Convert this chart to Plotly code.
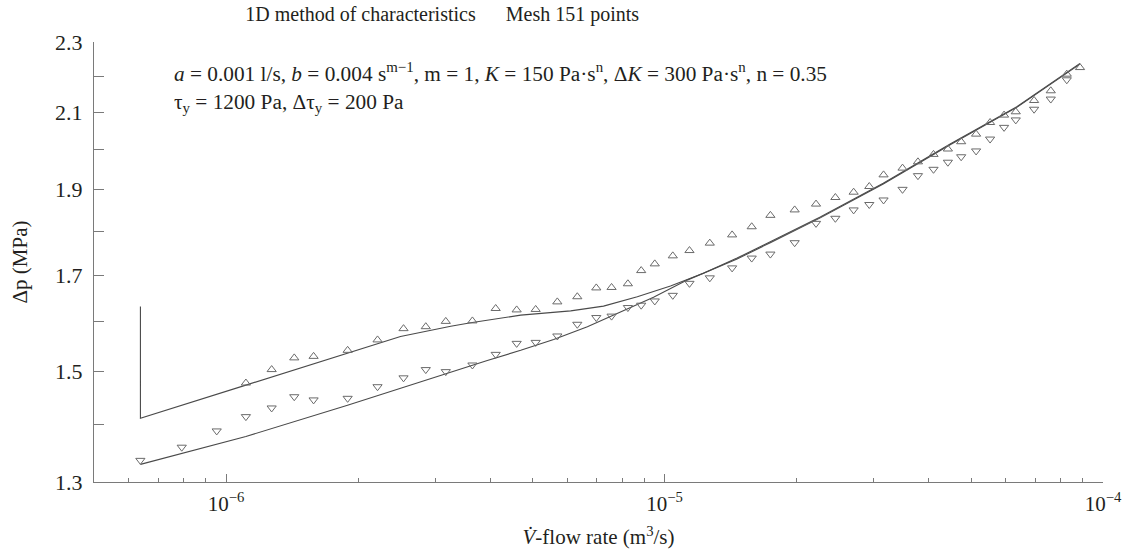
import plotly.graph_objects as go

# ---- data (flow rate in m^3/s, pressure drop in MPa) ----
x_up = [1.110e-6, 1.271e-6, 1.431e-6, 1.584e-6, 1.894e-6, 2.216e-6, 2.540e-6, 2.855e-6,
        3.171e-6, 3.647e-6, 4.121e-6, 4.601e-6, 5.084e-6, 5.696e-6, 6.326e-6, 6.989e-6,
        7.573e-6, 8.251e-6, 8.848e-6, 9.502e-6, 1.0445e-5, 1.1401e-5, 1.2685e-5, 1.4263e-5,
        1.5808e-5, 1.7437e-5, 1.9809e-5, 2.2160e-5, 2.4527e-5, 2.6996e-5, 2.9309e-5, 3.1589e-5,
        3.4901e-5, 3.7844e-5, 4.1066e-5, 4.4287e-5, 4.7485e-5, 5.1357e-5, 5.5270e-5, 5.9484e-5,
        6.3248e-5, 6.9638e-5, 7.6015e-5, 8.2677e-5, 8.8628e-5]
dp_up = [1.478, 1.504, 1.527, 1.530, 1.542, 1.563, 1.586, 1.590,
         1.601, 1.602, 1.628, 1.625, 1.626, 1.642, 1.653, 1.672,
         1.673, 1.681, 1.710, 1.725, 1.743, 1.755, 1.772, 1.791,
         1.810, 1.837, 1.850, 1.864, 1.880, 1.893, 1.907, 1.936,
         1.953, 1.969, 1.988, 2.002, 2.021, 2.041, 2.072, 2.092,
         2.101, 2.132, 2.159, 2.206, 2.225]

x_down = [6.378e-7, 7.926e-7, 9.524e-7, 1.110e-6, 1.271e-6, 1.431e-6, 1.584e-6, 1.894e-6,
          2.216e-6, 2.540e-6, 2.855e-6, 3.171e-6, 3.647e-6, 4.121e-6, 4.601e-6, 5.084e-6,
          5.696e-6, 6.326e-6, 6.989e-6, 7.573e-6, 8.251e-6, 8.848e-6, 9.502e-6, 1.0445e-5,
          1.1401e-5, 1.2685e-5, 1.4263e-5, 1.5808e-5, 1.7437e-5, 1.9809e-5, 2.2160e-5, 2.4527e-5,
          2.6996e-5, 2.9309e-5, 3.1589e-5, 3.4901e-5, 3.7844e-5, 4.1066e-5, 4.4287e-5, 4.7485e-5,
          5.1357e-5, 5.5270e-5, 5.9484e-5, 6.3248e-5, 6.9638e-5, 7.6015e-5, 8.2677e-5]
dp_down = [1.337, 1.360, 1.389, 1.415, 1.431, 1.452, 1.446, 1.449,
           1.471, 1.488, 1.504, 1.500, 1.513, 1.534, 1.556, 1.558,
           1.571, 1.595, 1.609, 1.612, 1.630, 1.635, 1.644, 1.656,
           1.682, 1.694, 1.716, 1.738, 1.747, 1.773, 1.818, 1.830,
           1.850, 1.863, 1.874, 1.900, 1.934, 1.950, 1.968, 1.982,
           1.997, 2.028, 2.059, 2.079, 2.108, 2.136, 2.190]

x_model_up = [6.38e-7, 6.38e-7, 1.110e-6, 1.893e-6, 2.50e-6, 3.255e-6, 3.615e-6, 4.70e-6,
              6.11e-6, 7.26e-6, 8.67e-6, 1.032e-5, 1.227e-5, 1.464e-5, 1.743e-5, 2.266e-5,
              3.154e-5, 4.482e-5, 6.36e-5, 8.86e-5]
dp_model_up = [1.632, 1.412, 1.474, 1.537, 1.570, 1.591, 1.598, 1.614,
               1.623, 1.633, 1.653, 1.676, 1.704, 1.738, 1.775, 1.833,
               1.915, 2.015, 2.115, 2.237]

x_model_down = [6.38e-7, 1.110e-6, 1.893e-6, 3.255e-6, 3.944e-6, 4.70e-6, 5.588e-6, 6.67e-6,
                7.94e-6, 9.44e-6, 1.126e-5, 1.464e-5, 1.743e-5, 2.266e-5, 3.154e-5, 4.482e-5,
                6.36e-5, 8.86e-5]
dp_model_down = [1.330, 1.379, 1.436, 1.500, 1.522, 1.542, 1.564, 1.590,
                 1.621, 1.652, 1.689, 1.736, 1.773, 1.831, 1.913, 2.013,
                 2.113, 2.235]

x_major = [1e-6, 1e-5, 1e-4]
x_major_text = ["10<sup>−6</sup>", "10<sup>−5</sup>", "10<sup>−4</sup>"]
x_minor = [m * 10.0 ** e for e in (-7, -6, -5) for m in range(2, 10) if 5e-7 < m * 10.0 ** e < 1e-4]
y_ticks = [1.3, 1.4, 1.5, 1.6, 1.7, 1.8, 1.9, 2.0, 2.1, 2.2, 2.3]
y_ticktext = ["1.3", "", "1.5", "", "1.7", "", "1.9", "", "2.1", "", "2.3"]

FONT = "Liberation Serif"
TXT = "#231f20"
AX = "#7a7a7a"
FS = 21

fig = go.Figure()
fig.add_trace(go.Scatter(x=x_model_up, y=dp_model_up, mode="lines",
                         line=dict(color="#4a4a4a", width=1.1), showlegend=False))
fig.add_trace(go.Scatter(x=x_model_down, y=dp_model_down, mode="lines",
                         line=dict(color="#4a4a4a", width=1.1), showlegend=False))
fig.add_trace(go.Scatter(x=x_up, y=dp_up, mode="markers",
                         marker=dict(symbol="triangle-up-open", size=8,
                                     color="#6a6a6a", line=dict(width=1, color="#6a6a6a")),
                         showlegend=False))
fig.add_trace(go.Scatter(x=x_down, y=dp_down, mode="markers",
                         marker=dict(symbol="triangle-down-open", size=8,
                                     color="#6a6a6a", line=dict(width=1, color="#6a6a6a")),
                         showlegend=False))

fig.update_layout(
    width=1128, height=552,
    margin=dict(l=94, r=25, t=42, b=70, autoexpand=False),
    paper_bgcolor="white", plot_bgcolor="white",
    font=dict(family=FONT, size=FS, color=TXT),
    title=dict(text="1D method of characteristics&nbsp;&nbsp;&nbsp;&nbsp;&nbsp;&nbsp;Mesh 151 points",
               x=0.392, xanchor="center", y=0.975, yanchor="middle",
               font=dict(family=FONT, size=20, color=TXT)),
    xaxis=dict(type="log", range=[-6.30103, -4.0], showline=True, linecolor=AX, linewidth=1,
               automargin=False,
               showgrid=False, zeroline=False, ticks="inside", ticklen=8, tickcolor=AX,
               tickmode="array", tickvals=x_major, ticktext=x_major_text,
               ticklabelstandoff=3,
               minor=dict(ticks="inside", ticklen=4, tickcolor=AX, tickmode="array", tickvals=x_minor),
               tickfont=dict(family=FONT, size=FS, color=TXT),
               title=dict(text="<i>V̇</i>-flow rate (m<sup>3</sup>/s)", standoff=14,
                          font=dict(family=FONT, size=FS, color=TXT))),
    yaxis=dict(type="log", range=[0.113943, 0.361728], showline=True, linecolor=AX, linewidth=1,
               automargin=False,
               showgrid=False, zeroline=False, ticks="inside", ticklen=10, tickcolor=AX,
               tickmode="array", tickvals=y_ticks, ticktext=y_ticktext,
               ticklabelstandoff=6,
               tickfont=dict(family=FONT, size=22, color=TXT),
               title=dict(text="Δp (MPa)", standoff=21,
                          font=dict(family=FONT, size=FS, color=TXT))),
)

fig.add_annotation(xref="paper", yref="paper", x=0.077, y=0.93, xanchor="left", yanchor="middle",
                   showarrow=False, align="left",
                   text="<i>a</i> = 0.001 l/s, <i>b</i> = 0.004 s<sup>m−1</sup>, m = 1, <i>K</i> = 150 Pa·s<sup>n</sup>, "
                        "Δ<i>K</i> = 300 Pa·s<sup>n</sup>, n = 0.35",
                   font=dict(family=FONT, size=21.3, color=TXT))
fig.add_annotation(xref="paper", yref="paper", x=0.077, y=0.862, xanchor="left", yanchor="middle",
                   showarrow=False, align="left",
                   text="τ<sub>y</sub> = 1200 Pa, Δτ<sub>y</sub> = 200 Pa",
                   font=dict(family=FONT, size=21.3, color=TXT))

fig.write_html("out.html", config={"displayModeBar": False},
               post_script="document.body.style.margin='0';document.body.style.overflow='hidden';")
